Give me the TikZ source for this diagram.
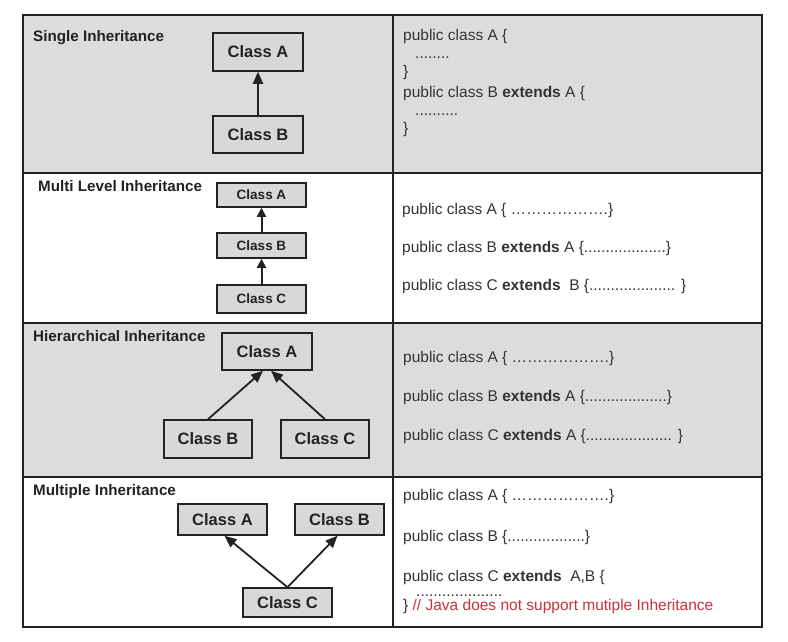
\documentclass[tikz,border=0pt]{standalone}
\usepackage{fontspec}
\setmainfont{Liberation Sans}
\usetikzlibrary{arrows.meta}
\definecolor{rowgray}{HTML}{DCDCDC}
\definecolor{boxgray}{HTML}{D8D8D8}
\definecolor{ink}{HTML}{222222}
\definecolor{codeink}{HTML}{333333}
\definecolor{javared}{HTML}{C8323C}
\begin{document}
\begin{tikzpicture}[x=1pt,y=-1pt,
  grid/.style={draw=ink, line width=1.8pt},
  cls/.style={draw=ink, fill=boxgray, line width=1.5pt, inner sep=0pt, text=ink, font=\bfseries\fontsize{16.5}{18}\selectfont},
  clssmall/.style={cls, font=\bfseries\fontsize{13.5}{15}\selectfont},
  heading/.style={anchor=base west, inner sep=0pt, text=ink, font=\bfseries\fontsize{15.2}{17}\selectfont},
  code/.style={anchor=base west, inner sep=0pt, text=codeink, font=\fontsize{15.5}{18}\selectfont},
  inh/.style={draw=ink, line width=1.8pt, -{Triangle[length=12pt,width=10pt]}},
  inhsmall/.style={draw=ink, line width=2pt, -{Triangle[length=9pt,width=9pt]}}
]
\path[use as bounding box] (0,0) rectangle (788,641);
\fill[white] (0,0) rectangle (788,641);
\fill[rowgray] (23,15) rectangle (762,173);
\fill[rowgray] (23,323) rectangle (762,477);
\draw[grid] (23,15) rectangle (762,627);
\draw[grid] (23,173) -- (762,173);
\draw[grid] (23,323) -- (762,323);
\draw[grid] (23,477) -- (762,477);
\draw[grid] (393,15) -- (393,627);

% headings
\node[heading] (h1) at (33,41) {Single Inheritance};
\node[heading] (h2) at (38,191) {Multi Level Inheritance};
\node[heading] (h3) at (33,341) {Hierarchical Inheritance};
\node[heading] (h4) at (33,495) {Multiple Inheritance};

% row 1: single
\node[cls, minimum width=90pt, minimum height=38pt] (sa) at (258,52) {Class A};
\node[cls, minimum width=90pt, minimum height=37pt] (sb) at (258,134.5) {Class B};
\draw[inh] (sb.north) -- (sa.south);

% row 2: multi level
\node[clssmall, minimum width=89pt, minimum height=24pt] (ma) at (261.5,195) {Class A};
\node[clssmall, minimum width=89pt, minimum height=25pt] (mb) at (261.5,245.5) {Class B};
\node[clssmall, minimum width=89pt, minimum height=28pt] (mc) at (261.5,299) {Class C};
\draw[inhsmall] (mb.north) -- (ma.south);
\draw[inhsmall] (mc.north) -- (mb.south);

% row 3: hierarchical
\node[cls, minimum width=90pt, minimum height=37pt] (ha) at (267,351.5) {Class A};
\node[cls, minimum width=88pt, minimum height=38pt] (hb) at (208,439) {Class B};
\node[cls, minimum width=88pt, minimum height=38pt] (hc) at (325,439) {Class C};
\draw[inh] (hb.north) -- ([xshift=-4pt]ha.south);
\draw[inh] (hc.north) -- ([xshift=4pt]ha.south);

% row 4: multiple
\node[cls, minimum width=89pt, minimum height=31pt] (pa) at (222.5,519.5) {Class A};
\node[cls, minimum width=89pt, minimum height=31pt] (pb) at (339.5,519.5) {Class B};
\node[cls, minimum width=89pt, minimum height=29pt] (pc) at (287.5,602.5) {Class C};
\draw[inh] (pc.north) -- ([xshift=2pt]pa.south);
\draw[inh] (pc.north) -- ([xshift=-2pt]pb.south);

% code row 1
\node[code] (c11) at (403,40) {public class A \{};
\node[code] (c12) at (415,58) {........};
\node[code] (c13) at (403,76) {\}};
\node[code] (c14) at (403,97) {public class B \textbf{extends} A \{};
\node[code] (c15) at (415,115) {..........};
\node[code] (c16) at (403,133) {\}};

% code row 2
\node[code] (c21) at (402,214) {public class A \{ ……………….\}};
\node[code] (c22) at (402,252) {public class B \textbf{extends} A \{...................\}};
\node[code] (c23) at (402,290) {public class C \textbf{extends}\ \ B \{.................... \}};

% code row 3
\node[code] (c31) at (403,362) {public class A \{ ……………….\}};
\node[code] (c32) at (403,401) {public class B \textbf{extends} A \{...................\}};
\node[code] (c33) at (403,440) {public class C \textbf{extends} A \{.................... \}};

% code row 4
\node[code] (c41) at (403,500) {public class A \{ ……………….\}};
\node[code] (c42) at (403,541) {public class B \{..................\}};
\node[code] (c43) at (403,581) {public class C \textbf{extends}\ \ A,B \{};
\node[code] (c44) at (416,596) {....................};
\node[code] (c45) at (403,610) {\} {\color{javared}// Java does not support mutiple Inheritance}};
\end{tikzpicture}
\end{document}
